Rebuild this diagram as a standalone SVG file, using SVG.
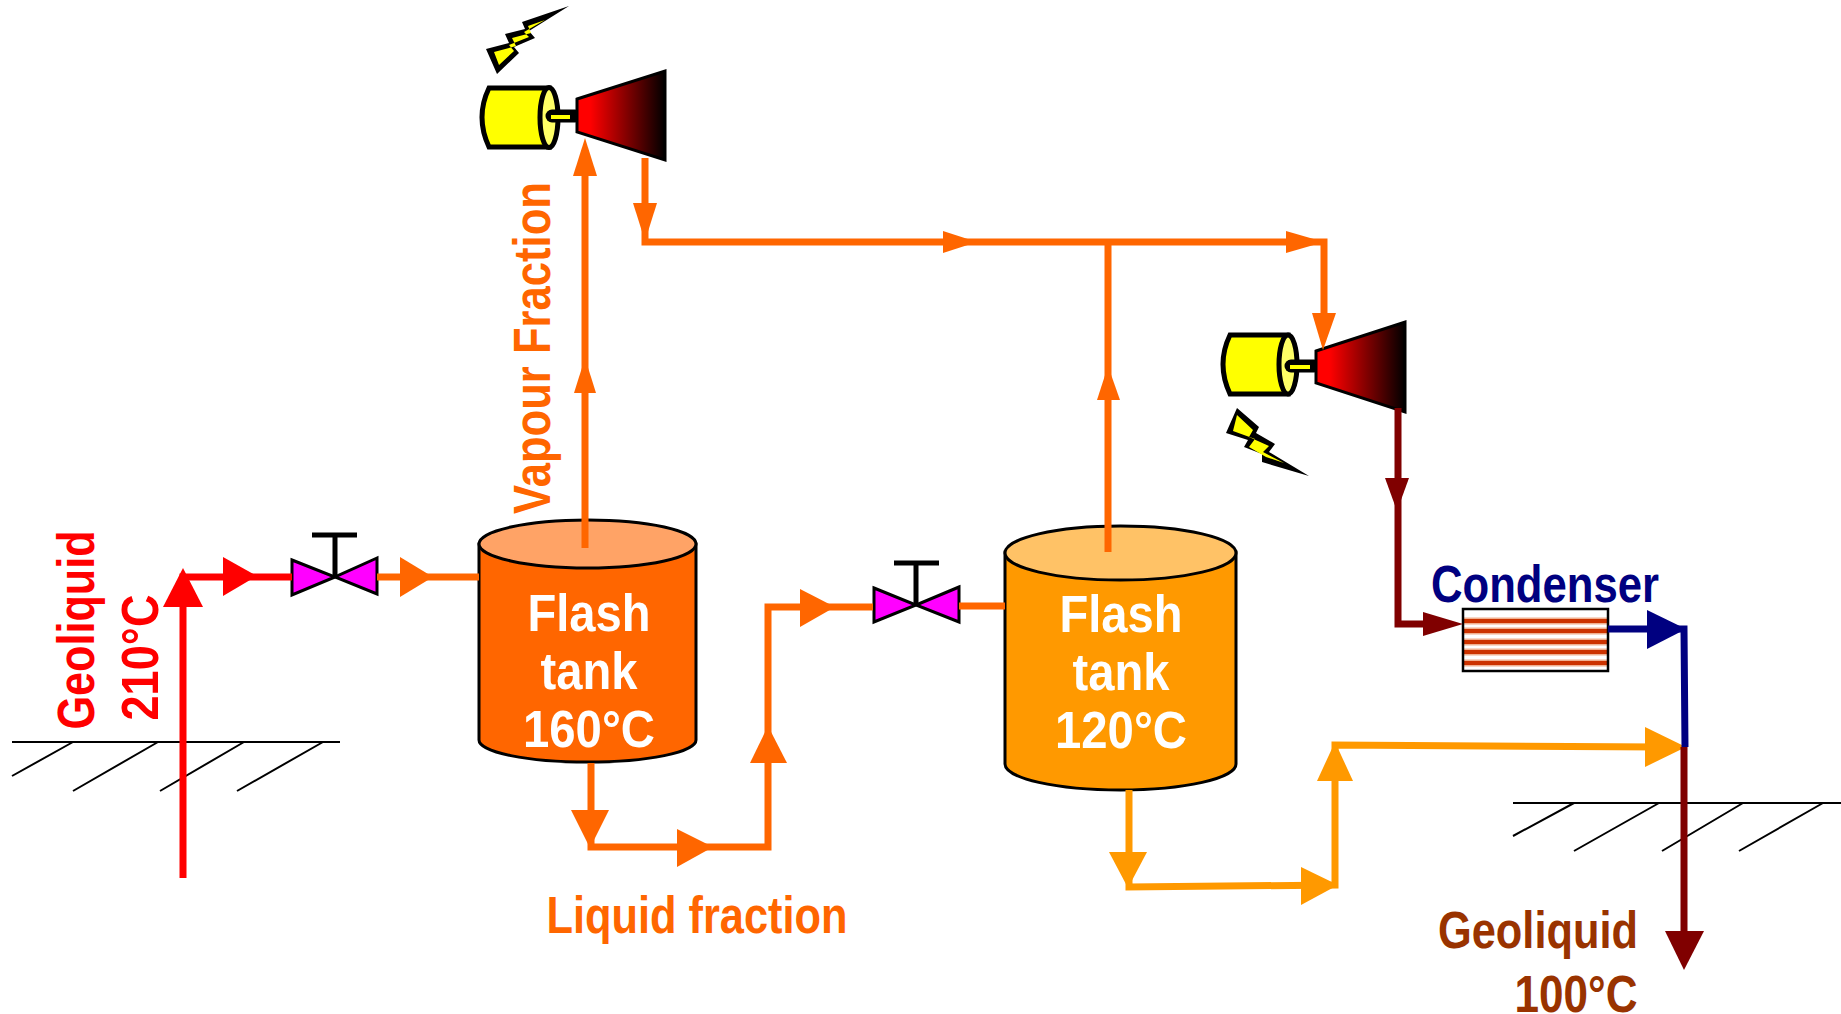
<svg xmlns="http://www.w3.org/2000/svg" width="1841" height="1014" viewBox="0 0 1841 1014">
<style>
text{font-family:"Liberation Sans",Arial,sans-serif;font-weight:700;text-anchor:middle}
.w{fill:#fff;font-size:51px}
.l{font-size:52px}
.p{fill:none;stroke-width:7;stroke-linejoin:miter}
.g{stroke:#000;stroke-width:2;fill:none}
.t{stroke:#000;stroke-width:3}
.red{stroke:#f00}.org{stroke:#f60}.amb{stroke:#f90}.dkr{stroke:#800000}.nav{stroke:#000080}
.fred{fill:#f00}.forg{fill:#f60}.famb{fill:#f90}.fdkr{fill:#800000}.fnav{fill:#000080}
.mag{fill:#f0f;stroke:#000;stroke-width:3}
.mb{fill:#ff0;stroke:#000;stroke-width:5}
.me{fill:#ffff66;stroke:#000;stroke-width:5}
.tb{fill:url(#tg);stroke:#000;stroke-width:3}
.stripe{stroke:#c30;stroke-width:4}
.halo{stroke:#f0b090;stroke-width:7}
</style>
<defs>
<linearGradient id="tg" x1="0" x2="1" y1="0" y2="0"><stop offset="0.15" stop-color="#f00"/><stop offset="1" stop-color="#000"/></linearGradient>
</defs>
<g id="ground">
<path class="g" d="M12 742H340M73 742L12 776M158 742L73 791M244 742L160 791M323 742L237 791"/>
<path class="g" d="M1513 803H1841M1574 803L1513 836M1659 803L1574 851M1743 803L1662 851M1823 803L1739 851"/>
</g>
<g id="generator-1">
<polygon points="569,6 522,22 525,29 505,34 509,43 486,49 497,74 519,53 514,47 535,38 529,31"/>
<polygon fill="#ff0" points="545,20 528,26 531,33 512,38 516,46 494,52 499,65 514,51 509,45 529,37 524,32"/>
<path class="mb" d="M549 88H489Q475 117 489 147H549Z"/>
<ellipse class="me" cx="549" cy="117.500" rx="9" ry="30"/>
<path d="M552 116H575" stroke="#000" stroke-width="13" stroke-linecap="round"/>
<path d="M551 117H570" stroke="#ff0" stroke-width="4"/>
<polygon class="tb" points="577,99 665,71 665,160 577,132"/>
</g>
<g id="generator-2">
<polygon points="1237,408 1259,427 1256,433 1275,444 1269,452 1309,476 1262,462 1262,454 1244,447 1248,440 1226,433"/>
<polygon fill="#ff0" points="1237,415 1253,430 1249,437 1269,446 1263,452 1284,463 1266,457 1249,447 1255,439 1233,431"/>
<path class="mb" d="M1288 335H1230Q1216 364 1230 394H1288Z"/>
<ellipse class="me" cx="1288" cy="364.500" rx="9" ry="29.500"/>
<path d="M1291 366H1314" stroke="#000" stroke-width="13" stroke-linecap="round"/>
<path d="M1290 367H1310" stroke="#ff0" stroke-width="4"/>
<polygon class="tb" points="1316,351 1405,322 1405,412 1316,383"/>
</g>
<g id="valve-1">
<polygon class="mag" points="292,560 335,577 292,595"/>
<polygon class="mag" points="377,558 335,577 377,594"/>
<path d="M335 577V535M312 535H357" stroke="#000" stroke-width="5" fill="none"/>
</g>
<g id="valve-2">
<polygon class="mag" points="874,588 916,605 874,622"/>
<polygon class="mag" points="959,587 916,605 959,622"/>
<path d="M916 605V563M894 563H939" stroke="#000" stroke-width="5" fill="none"/>
</g>
<g id="tank-1">
<path class="t" fill="#f60" d="M479 544V740A108 22 0 0 0 696 740V544Z"/>
<ellipse class="t" fill="#ffa366" cx="587.500" cy="544" rx="108.500" ry="24"/>
<text class="w" x="589" y="631" textLength="123" lengthAdjust="spacingAndGlyphs">Flash</text>
<text class="w" x="589" y="689" textLength="97" lengthAdjust="spacingAndGlyphs">tank</text>
<text class="w" x="589" y="747" textLength="132" lengthAdjust="spacingAndGlyphs">160°C</text>
</g>
<g id="tank-2">
<path class="t" fill="#f90" d="M1005 552V764A115.500 26 0 0 0 1236 764V552Z"/>
<ellipse class="t" fill="#ffc266" cx="1120.500" cy="553" rx="115.500" ry="27"/>
<text class="w" x="1121" y="632" textLength="123" lengthAdjust="spacingAndGlyphs">Flash</text>
<text class="w" x="1121" y="690" textLength="97" lengthAdjust="spacingAndGlyphs">tank</text>
<text class="w" x="1121" y="748" textLength="132" lengthAdjust="spacingAndGlyphs">120°C</text>
</g>
<g id="condenser">
<rect x="1463" y="609" width="145" height="62" fill="#fff"/>
<path class="halo" d="M1464 621H1607M1464 631H1607M1464 642H1607M1464 652H1607M1464 663H1607"/>
<path class="stripe" d="M1464 621H1607M1464 631H1607M1464 642H1607M1464 652H1607M1464 663H1607"/>
<rect x="1463" y="609" width="145" height="62" fill="none" stroke="#000" stroke-width="2.500"/>
<text class="l" x="1545" y="602" fill="#000080" textLength="228" lengthAdjust="spacingAndGlyphs">Condenser</text>
</g>
<g id="connectors">
<path class="p red" d="M183 878V577H292"/>
<polygon class="fred" points="183,568 203,607 163,607"/>
<polygon class="fred" points="223,557 257,576 223,596"/>
<path class="p org" d="M377 577H479"/>
<polygon class="forg" points="400,557 433,577 400,597"/>
<path class="p org" d="M585 548V150"/>
<polygon class="forg" points="585,138 597,176 573,176"/>
<polygon class="forg" points="585,358 596,393 574,393"/>
<path class="p org" d="M645 158V242H1324V320"/>
<polygon class="forg" points="645,241 633,203 657,203"/>
<polygon class="forg" points="977,242 943,231 943,253"/>
<polygon class="forg" points="1324,242 1286,231 1286,253"/>
<polygon class="forg" points="1323,350 1312,313 1336,313"/>
<path class="p org" d="M1108 552V242"/>
<polygon class="forg" points="1108,366 1120,400 1097,400"/>
<path class="p org" d="M591 763V847H768V607H873"/>
<polygon class="forg" points="590,848 571,810 609,810"/>
<polygon class="forg" points="713,847 677,829 677,867"/>
<polygon class="forg" points="768,726 750,763 787,763"/>
<polygon class="forg" points="835,607 800,589 800,627"/>
<path class="p org" d="M959 606H1005"/>
<path class="p amb" d="M1129 790V887L1335 885V745L1660 747"/>
<polygon class="famb" points="1128,888 1109,852 1147,852"/>
<polygon class="famb" points="1338,885 1301,867 1301,905"/>
<polygon class="famb" points="1335,742 1317,781 1353,781"/>
<polygon class="famb" points="1686,747 1645,727 1645,767"/>
<path class="p dkr" d="M1398 408V624H1430"/>
<polygon class="fdkr" points="1397,511 1385,478 1409,478"/>
<polygon class="fdkr" points="1463,624 1423,612 1423,636"/>
<path class="p nav" d="M1608 629H1684L1685 747"/>
<polygon class="fnav" points="1686,629 1647,610 1647,649"/>
<path class="p dkr" d="M1684 747V940"/>
<polygon class="fdkr" points="1684,970 1665,931 1704,931"/>
</g>
<g id="labels">
<text class="l" transform="translate(94,630) rotate(-90)" fill="#f00" textLength="199" lengthAdjust="spacingAndGlyphs">Geoliquid</text>
<text class="l" transform="translate(158,657.500) rotate(-90)" fill="#f00" textLength="126" lengthAdjust="spacingAndGlyphs">210°C</text>
<text class="l" transform="translate(550,348) rotate(-90)" fill="#f60" textLength="332" lengthAdjust="spacingAndGlyphs">Vapour Fraction</text>
<text class="l" x="697" y="933" fill="#f60" textLength="301" lengthAdjust="spacingAndGlyphs">Liquid fraction</text>
<text class="l" x="1538" y="948" fill="#930" textLength="200" lengthAdjust="spacingAndGlyphs">Geoliquid</text>
<text class="l" x="1576" y="1012" fill="#930" textLength="123" lengthAdjust="spacingAndGlyphs">100°C</text>
</g>
</svg>
